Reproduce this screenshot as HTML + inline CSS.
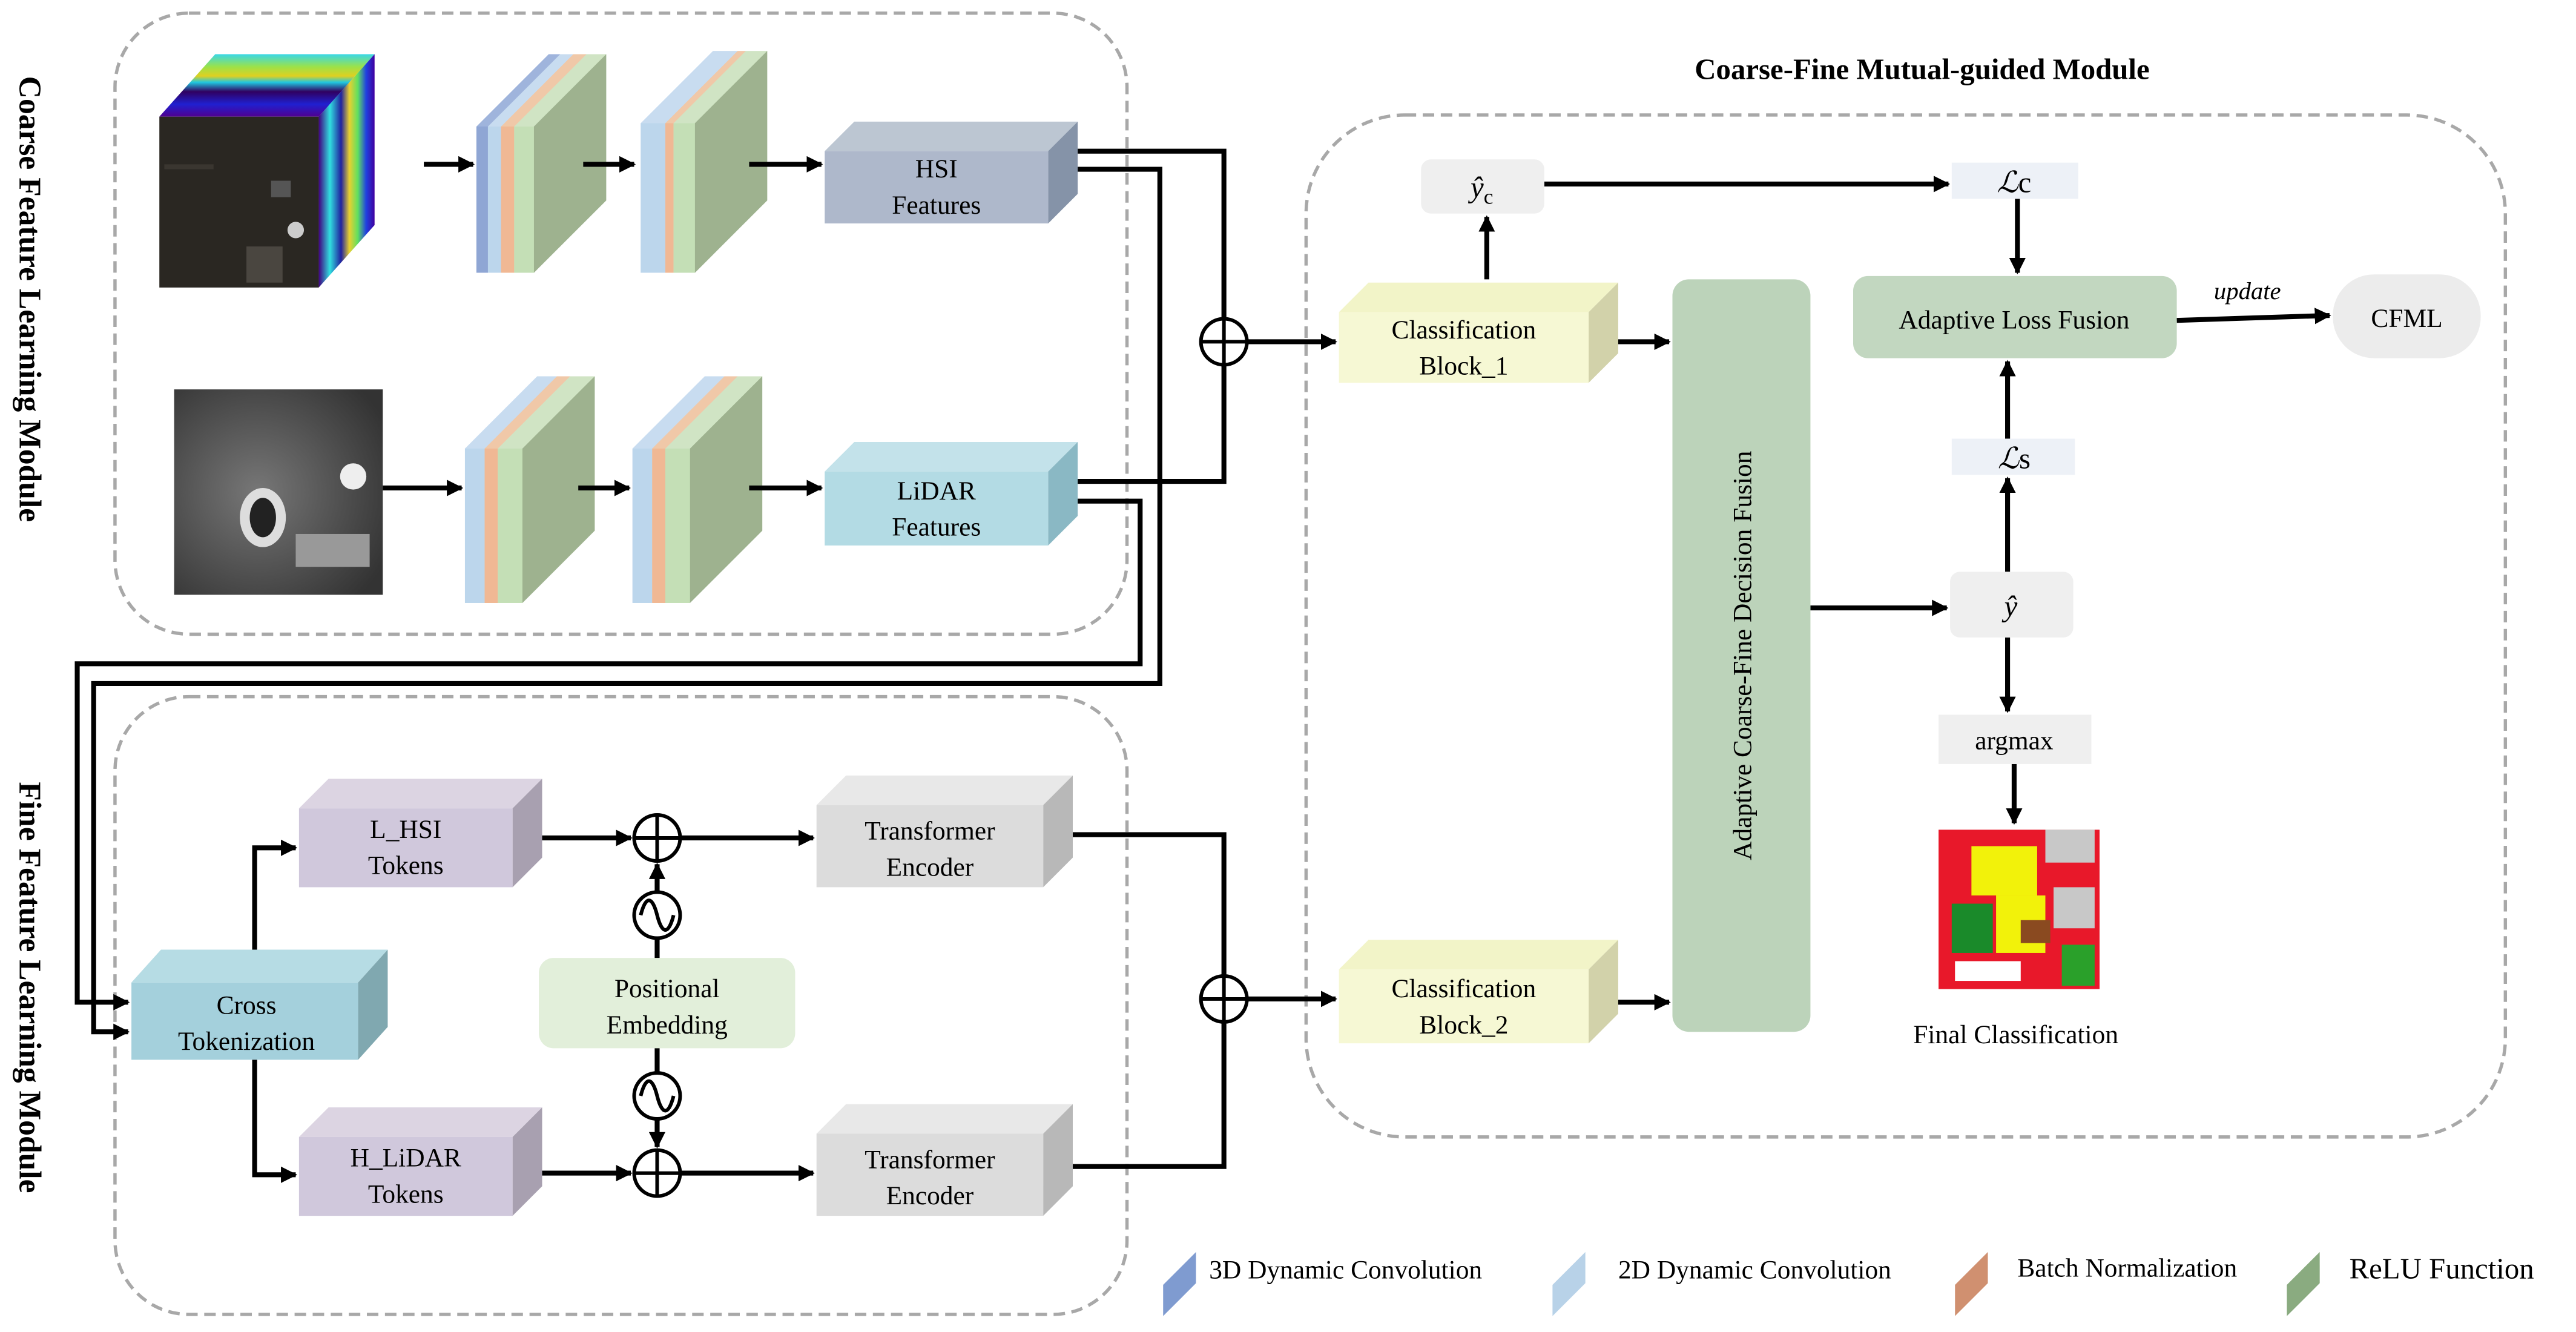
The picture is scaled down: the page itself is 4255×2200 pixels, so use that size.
<!DOCTYPE html>
<html><head><meta charset="utf-8"><style>
html,body{margin:0;padding:0;background:#fff;}
svg{display:block;}
svg text{font-family:"Liberation Serif","Times New Roman",serif !important;fill:#000;}
</style></head><body>
<svg width="4255" height="2200" viewBox="0 0 1568 810.7" preserveAspectRatio="none" xmlns="http://www.w3.org/2000/svg" font-family="Liberation Serif, serif">
<defs>
<marker id="ar" markerWidth="10" markerHeight="10" refX="9" refY="5" orient="auto" markerUnits="userSpaceOnUse">
<path d="M0,0 L10,5 L0,10 z" fill="#000"/></marker>
<linearGradient id="jetT" x1="0" y1="0" x2="0" y2="1">
<stop offset="0" stop-color="#3ad8e8"/><stop offset="0.2" stop-color="#9ae24a"/><stop offset="0.35" stop-color="#e0d020"/><stop offset="0.45" stop-color="#20c8e0"/><stop offset="0.6" stop-color="#300060"/><stop offset="0.8" stop-color="#2020d0"/><stop offset="1" stop-color="#500090"/></linearGradient>
<linearGradient id="jetR" x1="0" y1="0" x2="1" y2="0">
<stop offset="0" stop-color="#400080"/><stop offset="0.2" stop-color="#30e0e0"/><stop offset="0.4" stop-color="#2020a0"/><stop offset="0.55" stop-color="#e8d030"/><stop offset="0.7" stop-color="#60e060"/><stop offset="0.85" stop-color="#2040e0"/><stop offset="1" stop-color="#4000a0"/></linearGradient>
<radialGradient id="lid" cx="0.4" cy="0.5" r="0.7"><stop offset="0" stop-color="#777"/><stop offset="1" stop-color="#333"/></radialGradient>
</defs>

<rect x="70" y="8" width="616" height="378" rx="45" fill="none" stroke="#a8a8a8" stroke-width="2" stroke-dasharray="7,4"/>
<rect x="70" y="424" width="616" height="376" rx="45" fill="none" stroke="#a8a8a8" stroke-width="2" stroke-dasharray="7,4"/>
<rect x="795" y="70" width="730" height="622" rx="60" fill="none" stroke="#a8a8a8" stroke-width="2" stroke-dasharray="7,4"/>

<text x="1170" y="48" font-size="18" font-weight="bold" text-anchor="middle">Coarse-Fine Mutual-guided Module</text>
<text transform="translate(12,182) rotate(90)" font-size="19" font-weight="bold" text-anchor="middle">Coarse Feature Learning Module</text>
<text transform="translate(12,601) rotate(90)" font-size="19" font-weight="bold" text-anchor="middle">Fine Feature Learning Module</text>

<polygon points="97,71 131,33 228,33 194,71" fill="url(#jetT)"/>
<polygon points="194,71 228,33 228,137 194,175" fill="url(#jetR)"/>
<rect x="97" y="71" width="97" height="104" fill="#2a2722"/>
<rect x="150" y="150" width="22" height="22" fill="#4a4640"/>
<rect x="165" y="110" width="12" height="10" fill="#555"/>
<circle cx="180" cy="140" r="5" fill="#ccc"/>
<rect x="100" y="100" width="30" height="3" fill="#3a3630"/>
<rect x="106" y="237" width="127" height="125" fill="url(#lid)"/>
<ellipse cx="160" cy="315" rx="14" ry="18" fill="#ddd"/>
<ellipse cx="160" cy="315" rx="8" ry="12" fill="#222"/>
<rect x="180" y="325" width="45" height="20" fill="#999"/>
<circle cx="215" cy="290" r="8" fill="#eee"/>

<polygon points="290,77 334,33 341,33 341,122 297,166 290,166" fill="#9fb4dc"/><rect x="290" y="77" width="7" height="89" fill="#8fa6d4"/>
<polygon points="297,77 341,33 349,33 349,122 305,166 297,166" fill="#c8dcf0"/><rect x="297" y="77" width="8" height="89" fill="#bcd6ec"/>
<polygon points="305,77 349,33 357,33 357,122 313,166 305,166" fill="#f0c8a8"/><rect x="305" y="77" width="8" height="89" fill="#f0b894"/>
<polygon points="313,77 357,33 369,33 369,122 325,166 313,166" fill="#d0e4c4"/><rect x="313" y="77" width="12" height="89" fill="#c4dfb6"/>
<polygon points="325,77 369,33 369,122 325,166" fill="#9eb28f"/>
<polygon points="390,75 434,31 449,31 449,122 405,166 390,166" fill="#c8dcf0"/><rect x="390" y="75" width="15" height="91" fill="#bcd6ec"/>
<polygon points="405,75 449,31 454,31 454,122 410,166 405,166" fill="#f0c8a8"/><rect x="405" y="75" width="5" height="91" fill="#f0b894"/>
<polygon points="410,75 454,31 467,31 467,122 423,166 410,166" fill="#d0e4c4"/><rect x="410" y="75" width="13" height="91" fill="#c4dfb6"/>
<polygon points="423,75 467,31 467,122 423,166" fill="#9eb28f"/>
<polygon points="283,273 327,229 339,229 339,323 295,367 283,367" fill="#c8dcf0"/><rect x="283" y="273" width="12" height="94" fill="#bcd6ec"/>
<polygon points="295,273 339,229 347,229 347,323 303,367 295,367" fill="#f0c8a8"/><rect x="295" y="273" width="8" height="94" fill="#f0b894"/>
<polygon points="303,273 347,229 362,229 362,323 318,367 303,367" fill="#d0e4c4"/><rect x="303" y="273" width="15" height="94" fill="#c4dfb6"/>
<polygon points="318,273 362,229 362,323 318,367" fill="#9eb28f"/>
<polygon points="385,273 429,229 441,229 441,323 397,367 385,367" fill="#c8dcf0"/><rect x="385" y="273" width="12" height="94" fill="#bcd6ec"/>
<polygon points="397,273 441,229 449,229 449,323 405,367 397,367" fill="#f0c8a8"/><rect x="397" y="273" width="8" height="94" fill="#f0b894"/>
<polygon points="405,273 449,229 464,229 464,323 420,367 405,367" fill="#d0e4c4"/><rect x="405" y="273" width="15" height="94" fill="#c4dfb6"/>
<polygon points="420,273 464,229 464,323 420,367" fill="#9eb28f"/>

<g stroke="#000" stroke-width="3" fill="none">
<line x1="258" y1="100" x2="288" y2="100" marker-end="url(#ar)"/>
<line x1="355" y1="100" x2="386" y2="100" marker-end="url(#ar)"/>
<line x1="456" y1="100" x2="500" y2="100" marker-end="url(#ar)"/>
<line x1="233" y1="297" x2="281" y2="297" marker-end="url(#ar)"/>
<line x1="352" y1="297" x2="383" y2="297" marker-end="url(#ar)"/>
<line x1="456" y1="297" x2="500" y2="297" marker-end="url(#ar)"/>
</g>

<g>
<polygon points="502,92 520,74 656,74 638,92" fill="#bcc6d2"/><polygon points="638,92 656,74 656,118 638,136" fill="#8593a8"/><rect x="502" y="92" width="136" height="44" fill="#aeb8cb"/>
<polygon points="502,287 520,269 656,269 638,287" fill="#c3e2ea"/><polygon points="638,287 656,269 656,314 638,332" fill="#8ab8c4"/><rect x="502" y="287" width="136" height="45" fill="#b3dbe4"/>
<polygon points="815,190 833,172 985,172 967,190" fill="#f2f4c8"/><polygon points="967,190 985,172 985,215 967,233" fill="#d2d2aa"/><rect x="815" y="190" width="152" height="43" fill="#f6f8d4"/>
<polygon points="815,590 833,572 985,572 967,590" fill="#f2f4c8"/><polygon points="967,590 985,572 985,617 967,635" fill="#d2d2aa"/><rect x="815" y="590" width="152" height="45" fill="#f6f8d4"/>
<polygon points="80,598 98,578 236,578 218,598" fill="#b6dce4"/><polygon points="218,598 236,578 236,625 218,645" fill="#80a8b0"/><rect x="80" y="598" width="138" height="47" fill="#a4d0dc"/>
<polygon points="182,492 200,474 330,474 312,492" fill="#dcd4e2"/><polygon points="312,492 330,474 330,522 312,540" fill="#a8a0b0"/><rect x="182" y="492" width="130" height="48" fill="#d0c8dc"/>
<polygon points="182,692 200,674 330,674 312,692" fill="#dcd4e2"/><polygon points="312,692 330,674 330,722 312,740" fill="#a8a0b0"/><rect x="182" y="692" width="130" height="48" fill="#d0c8dc"/>
<polygon points="497,490 515,472 653,472 635,490" fill="#e8e8e8"/><polygon points="635,490 653,472 653,522 635,540" fill="#b8b8b8"/><rect x="497" y="490" width="138" height="50" fill="#dcdcdc"/>
<polygon points="497,690 515,672 653,672 635,690" fill="#e8e8e8"/><polygon points="635,690 653,672 653,722 635,740" fill="#b8b8b8"/><rect x="497" y="690" width="138" height="50" fill="#dcdcdc"/>
</g>
<g font-size="16" text-anchor="middle">
<text x="570" y="108">HSI</text><text x="570" y="130">Features</text>
<text x="570" y="304">LiDAR</text><text x="570" y="326">Features</text>
<text x="891" y="206">Classification</text><text x="891" y="228">Block_1</text>
<text x="891" y="607">Classification</text><text x="891" y="629">Block_2</text>
<text x="150" y="617">Cross</text><text x="150" y="639">Tokenization</text>
<text x="247" y="510">L_HSI</text><text x="247" y="532">Tokens</text>
<text x="247" y="710">H_LiDAR</text><text x="247" y="732">Tokens</text>
<text x="566" y="511">Transformer</text><text x="566" y="533">Encoder</text>
<text x="566" y="711">Transformer</text><text x="566" y="733">Encoder</text>
</g>

<rect x="328" y="583" width="156" height="55" rx="9" fill="#e2efda"/>
<text x="406" y="607" font-size="16" text-anchor="middle">Positional</text>
<text x="406" y="629" font-size="16" text-anchor="middle">Embedding</text>

<g stroke="#000" stroke-width="3" fill="none">
<polyline points="656,92 745,92 745,194"/>
<polyline points="656,293 745,293 745,222"/>
<polyline points="656,103 706,103 706,416 57,416 57,628 78,628" marker-end="url(#ar)"/>
<polyline points="656,305 694,305 694,404 47,404 47,610 78,610" marker-end="url(#ar)"/>
<line x1="759" y1="208" x2="813" y2="208" marker-end="url(#ar)"/>
<polyline points="155,578 155,516 180,516" marker-end="url(#ar)"/>
<polyline points="155,645 155,715 180,715" marker-end="url(#ar)"/>
<line x1="330" y1="510" x2="384" y2="510" marker-end="url(#ar)"/>
<line x1="414" y1="510" x2="495" y2="510" marker-end="url(#ar)"/>
<line x1="330" y1="714" x2="384" y2="714" marker-end="url(#ar)"/>
<line x1="414" y1="714" x2="495" y2="714" marker-end="url(#ar)"/>
<line x1="400" y1="583" x2="400" y2="571"/>
<line x1="400" y1="543" x2="400" y2="526" marker-end="url(#ar)"/>
<line x1="400" y1="638" x2="400" y2="653"/>
<line x1="400" y1="681" x2="400" y2="698" marker-end="url(#ar)"/>
<polyline points="653,508 745,508 745,594"/>
<polyline points="653,710 745,710 745,622"/>
<line x1="759" y1="608" x2="813" y2="608" marker-end="url(#ar)"/>
<line x1="905" y1="170" x2="905" y2="132" marker-end="url(#ar)"/>
<line x1="940" y1="112" x2="1186" y2="112" marker-end="url(#ar)"/>
<line x1="1228" y1="121" x2="1228" y2="166" marker-end="url(#ar)"/>
<line x1="985" y1="208" x2="1016" y2="208" marker-end="url(#ar)"/>
<line x1="985" y1="610" x2="1016" y2="610" marker-end="url(#ar)"/>
<line x1="1102" y1="370" x2="1185" y2="370" marker-end="url(#ar)"/>
<line x1="1222" y1="348" x2="1222" y2="291" marker-end="url(#ar)"/>
<line x1="1222" y1="267" x2="1222" y2="220" marker-end="url(#ar)"/>
<line x1="1222" y1="388" x2="1222" y2="433" marker-end="url(#ar)"/>
<line x1="1226" y1="465" x2="1226" y2="501" marker-end="url(#ar)"/>
<line x1="1325" y1="195" x2="1418" y2="192" marker-end="url(#ar)"/>
</g>
<g stroke="#000" stroke-width="2.2" fill="#fff">
<circle cx="745" cy="208" r="14"/><path d="M731,208 H759 M745,194 V222" fill="none"/>
<circle cx="745" cy="608" r="14"/><path d="M731,608 H759 M745,594 V622" fill="none"/>
<circle cx="400" cy="510" r="14"/><path d="M386,510 H414 M400,496 V524" fill="none"/>
<circle cx="400" cy="714" r="14"/><path d="M386,714 H414 M400,700 V728" fill="none"/>
<circle cx="400" cy="557" r="14"/><path d="M390,557 C393,545 397,545 400,557 C403,569 407,569 410,557" fill="none"/>
<circle cx="400" cy="667" r="14"/><path d="M390,667 C393,655 397,655 400,667 C403,679 407,679 410,667" fill="none"/>
</g>

<rect x="865" y="97" width="75" height="33" rx="6" fill="#efefef"/>
<text x="902" y="120" font-size="18" font-style="italic" text-anchor="middle">ŷ<tspan font-size="13" font-style="normal" dy="4">c</tspan></text>
<rect x="1188" y="99" width="77" height="22" fill="#edf1f7"/>
<text x="1226" y="117" font-size="18" text-anchor="middle"><tspan font-style="italic">ℒ</tspan>c</text>
<rect x="1128" y="168" width="197" height="50" rx="9" fill="#c2d7c0"/>
<text x="1226" y="200" font-size="16" text-anchor="middle">Adaptive Loss Fusion</text>
<text x="1368" y="182" font-size="15" font-style="italic" text-anchor="middle">update</text>
<rect x="1420" y="167" width="90" height="51" rx="25" fill="#ececec"/>
<text x="1465" y="199" font-size="16" text-anchor="middle">CFML</text>
<rect x="1018" y="170" width="84" height="458" rx="10" fill="#bcd3ba"/>
<text transform="translate(1066,399) rotate(-90)" font-size="16" text-anchor="middle">Adaptive Coarse-Fine Decision Fusion</text>
<rect x="1188" y="267" width="75" height="22" fill="#edf1f7"/>
<text x="1226" y="285" font-size="18" text-anchor="middle"><tspan font-style="italic">ℒ</tspan>s</text>
<rect x="1187" y="348" width="75" height="40" rx="6" fill="#efefef"/>
<text x="1224" y="375" font-size="18" font-style="italic" text-anchor="middle">ŷ</text>
<rect x="1180" y="435" width="93" height="30" fill="#efefef"/>
<text x="1226" y="456" font-size="16" text-anchor="middle">argmax</text>
<rect x="1180" y="505" width="98" height="97" fill="#e8182a"/>
<rect x="1200" y="515" width="40" height="30" fill="#f2f20a"/>
<rect x="1245" y="505" width="30" height="20" fill="#c8c8c8"/>
<rect x="1188" y="550" width="25" height="30" fill="#1a8a2a"/>
<rect x="1215" y="545" width="30" height="35" fill="#f2f20a"/>
<rect x="1230" y="560" width="18" height="14" fill="#8a4a20"/>
<rect x="1250" y="540" width="25" height="25" fill="#c8c8c8"/>
<rect x="1255" y="575" width="20" height="25" fill="#2aa02a"/>
<rect x="1190" y="585" width="40" height="12" fill="#fff"/>
<text x="1227" y="635" font-size="16" text-anchor="middle">Final  Classification</text>

<polygon points="708,782 728,762 728,781 708,801" fill="#7f9bd0"/>
<text x="736" y="778" font-size="16">3D Dynamic Convolution</text>
<polygon points="945,782 965,762 965,781 945,801" fill="#b8d2e8"/>
<text x="985" y="778" font-size="16">2D Dynamic Convolution</text>
<polygon points="1190,782 1210,762 1210,781 1190,801" fill="#d09070"/>
<text x="1228" y="777" font-size="16">Batch Normalization</text>
<polygon points="1392,782 1412,762 1412,781 1392,801" fill="#8aab80"/>
<text x="1430" y="778" font-size="18">ReLU Function</text>
</svg>
</body></html>
